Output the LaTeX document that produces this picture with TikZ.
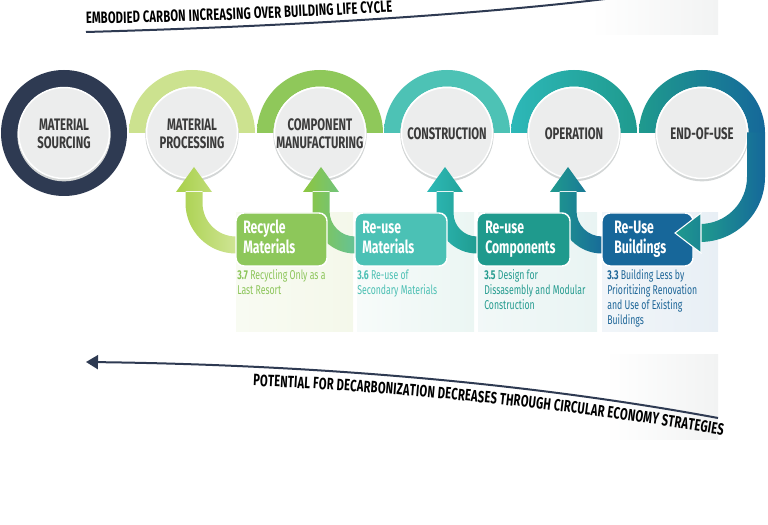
\documentclass[tikz,border=0pt]{standalone}
\usepackage{fontspec}
\setmainfont{Fira Sans}
\newfontfamily\cf[FakeStretch=0.68]{Fira Sans}
\usetikzlibrary{arrows.meta,decorations.text}
\definecolor{navy}{HTML}{2E3A52}
\definecolor{ringA}{HTML}{CCE28F}
\definecolor{ringB}{HTML}{8FC85A}
\definecolor{ringC}{HTML}{4DC2B5}
\definecolor{ringDa}{HTML}{2DB8B8}
\definecolor{ringDb}{HTML}{1F9A8E}
\definecolor{ringEa}{HTML}{1F9A8E}
\definecolor{ringEb}{HTML}{15689A}
\definecolor{circgrey}{HTML}{ECEDED}
\definecolor{shadowgrey}{HTML}{D3D6D6}
\definecolor{labelgrey}{HTML}{3B3B3B}
\definecolor{boxA}{HTML}{8DC75A}
\definecolor{boxB}{HTML}{4BC1B5}
\definecolor{boxC}{HTML}{1F9A8D}
\definecolor{boxD}{HTML}{17679A}
\definecolor{descA}{HTML}{8CC55A}
\definecolor{descB}{HTML}{4DC0B4}
\definecolor{descC}{HTML}{269C90}
\definecolor{descD}{HTML}{1E6698}
\definecolor{panelA}{HTML}{F4F8EA}
\definecolor{panelB}{HTML}{EBF6F3}
\definecolor{panelC}{HTML}{E9F4F3}
\definecolor{panelD}{HTML}{E8EFF5}
\definecolor{fadegrey}{HTML}{F2F3F3}
\definecolor{arAa}{HTML}{A8D04A}
\definecolor{arAb}{HTML}{D2E69A}
\definecolor{arBa}{HTML}{8DC63F}
\definecolor{arBb}{HTML}{62C29C}
\definecolor{arCa}{HTML}{2DB9B6}
\definecolor{arCb}{HTML}{1F9A8E}
\definecolor{arDa}{HTML}{1F9A8E}
\definecolor{arDb}{HTML}{17689A}
\newcommand\titlef{\cf\bfseries\fontsize{12.3}{14}\selectfont}
\newcommand\halfring[3]{\shade[left color=#2,right color=#3] (#1-63,392) arc[start angle=180,end angle=0,radius=47.25pt] -- (#1+46.5,392) arc[start angle=0,end angle=180,radius=34.875pt] -- cycle;}
\newcommand\greycirc[1]{\fill[shadowgrey] (#1,390.3) circle[radius=35pt];
  \filldraw[fill=circgrey,draw=white,line width=1.1pt] (#1,392) circle[radius=34.1pt];}
% #1 shaft x, #2 box x, #3 arc centre Y, #4 outer radius, #5 inner radius, #6 #7 colours
\newcommand\uparr[7]{\shade[left color=#6,right color=#7]
  (#1-8.5,334) -- (#1-8.5,#3) arc[start angle=180,end angle=270,radius=#4] -- (#2+4,271.5) -- (#2+4,288.5) -- (#2,288.5) arc[start angle=270,end angle=180,radius=#5] -- (#1+8.5,334) -- cycle
  (#1-18,333) -- (#1,358) -- (#1+18,333) -- cycle;}
\begin{document}
\begin{tikzpicture}[x=0.75pt,y=0.75pt,
  clabel/.style={font=\cf\bfseries\fontsize{12.5}{14}\selectfont,text=labelgrey,inner sep=0pt,anchor=base},
  btext/.style={font=\cf\bfseries\fontsize{13.5}{15}\selectfont,text=white,inner sep=0pt,anchor=base west},
  dtext/.style={font=\cf\fontsize{9.6}{11}\selectfont,inner sep=0pt,anchor=base west},
  boxst/.style={draw=white,line width=1.1pt,rounded corners=6pt},
  curve/.style={draw=navy,line width=1.5pt}]
\useasboundingbox (0,0) rectangle (768,525);
% fades
\shade[left color=white,right color=fadegrey] (590,490) rectangle (718,525);
\shade[left color=white,right color=fadegrey] (605,85) rectangle (718,170);
% panels
\shade[left color=panelA!60!white,right color=panelA] (236,193) rectangle (353,312);
\shade[left color=panelB!40!white,right color=panelB] (357,193) rectangle (474,312);
\shade[left color=panelC!60!white,right color=panelC] (478,193) rectangle (597,312);
\shade[left color=panelD!60!white,right color=panelD] (602,193) rectangle (718,312);
% top curve and title
\draw[curve] (86,493) .. controls (300,499) and (480,511) .. (605,526);
\path[decorate,decoration={text along path,text={|\titlef|EMBODIED CARBON INCREASING OVER BUILDING LIFE CYCLE},text align={fit to path}}]
  (86,501) .. controls (190,503) and (290,507) .. (392,513);
% bottom curve and text
\draw[curve,-{Triangle[length=9pt,width=10.5pt]}] (718,107) .. controls (540,140) and (330,160) .. (86,163);
\path[decorate,decoration={text along path,text={|\titlef|POTENTIAL FOR DECARBONIZATION DECREASES THROUGH CIRCULAR ECONOMY STRATEGIES},text align={fit to path}}]
  (253,139) .. controls (400,133) and (560,117) .. (722,90);
% rings
\fill[navy] (64,392) circle[radius=47.25pt];
\halfring{192}{ringA}{ringA}
\halfring{320}{ringB}{ringB}
\halfring{447}{ringC}{ringC}
\halfring{574}{ringDa}{ringDb}
\halfring{702}{ringEa}{ringEb}
% grey circles
\greycirc{64}\greycirc{192}\greycirc{320}\greycirc{447}\greycirc{574}\greycirc{702}
% circle labels
\node[clabel] (l1a) at (64,394.3) {MATERIAL};
\node[clabel] (l1b) at (64,376.7) {SOURCING};
\node[clabel] (l2a) at (192,394.3) {MATERIAL};
\node[clabel] (l2b) at (192,376.7) {PROCESSING};
\node[clabel] (l3a) at (320,394.3) {COMPONENT};
\node[clabel] (l3b) at (320,376.7) {MANUFACTURING};
\node[clabel] (l4) at (447,385) {CONSTRUCTION};
\node[clabel] (l5) at (574,385) {OPERATION};
\node[clabel] (l6) at (702,385) {END-OF-USE};
% up arrows
\uparr{194}{236}{322}{37.875pt}{25.125pt}{arAa}{arAb}
\uparr{321}{355}{314}{31.875pt}{19.125pt}{arBa}{arBb}
\uparr{445}{477}{312}{30.375pt}{17.625pt}{arCa}{arCb}
\uparr{568}{602}{314}{31.875pt}{19.125pt}{arDa}{arDb}
% boxes
\filldraw[boxst,fill=boxA] (236,259) rectangle (327,312);
\filldraw[boxst,fill=boxB] (355,259) rectangle (447,312);
\filldraw[boxst,fill=boxC] (477,259) rectangle (570,312);
\filldraw[boxst,fill=boxD] (602,259) rectangle (693,312);
\node[btext] (b1a) at (243,291) {Recycle};
\node[btext] (b1b) at (243,271) {Materials};
\node[btext] (b2a) at (362,291) {Re-use};
\node[btext] (b2b) at (362,271) {Materials};
\node[btext] (b3a) at (485,291) {Re-use};
\node[btext] (b3b) at (485,271) {Components};
\node[btext] (b4a) at (614,291) {Re-Use};
\node[btext] (b4b) at (614,271) {Buildings};
% descriptions
\node[dtext,text=descA] (d1a) at (237,245) {\textbf{3.7} Recycling Only as a};
\node[dtext,text=descA] (d1b) at (237,230) {Last Resort};
\node[dtext,text=descB] (d2a) at (357,245) {\textbf{3.6} Re-use of};
\node[dtext,text=descB] (d2b) at (357,230) {Secondary Materials};
\node[dtext,text=descC] (d3a) at (484,245) {\textbf{3.5} Design for};
\node[dtext,text=descC] (d3b) at (484,230) {Dissasembly and Modular};
\node[dtext,text=descC] (d3c) at (484,215) {Construction};
\node[dtext,text=descD] (d4a) at (607,245) {\textbf{3.3} Building Less by};
\node[dtext,text=descD] (d4b) at (607,230) {Prioritizing Renovation};
\node[dtext,text=descD] (d4c) at (607,215) {and Use of Existing};
\node[dtext,text=descD] (d4d) at (607,200) {Buildings};
% end-of-use tail with arrow
\shade[left color=ringEa,right color=ringEb]
  (765,392.5) -- (765,348) arc[start angle=0,end angle=-90,radius=48.75pt] -- (700,301) arc[start angle=-90,end angle=0,radius=35.25pt] -- (747,392.5) -- cycle;
\shade[left color=ringEa,right color=ringEa!60!ringEb,draw=white,line width=0.8pt]
  (701,312) -- (675,292) -- (701,272) -- cycle;
\end{tikzpicture}
\end{document}
